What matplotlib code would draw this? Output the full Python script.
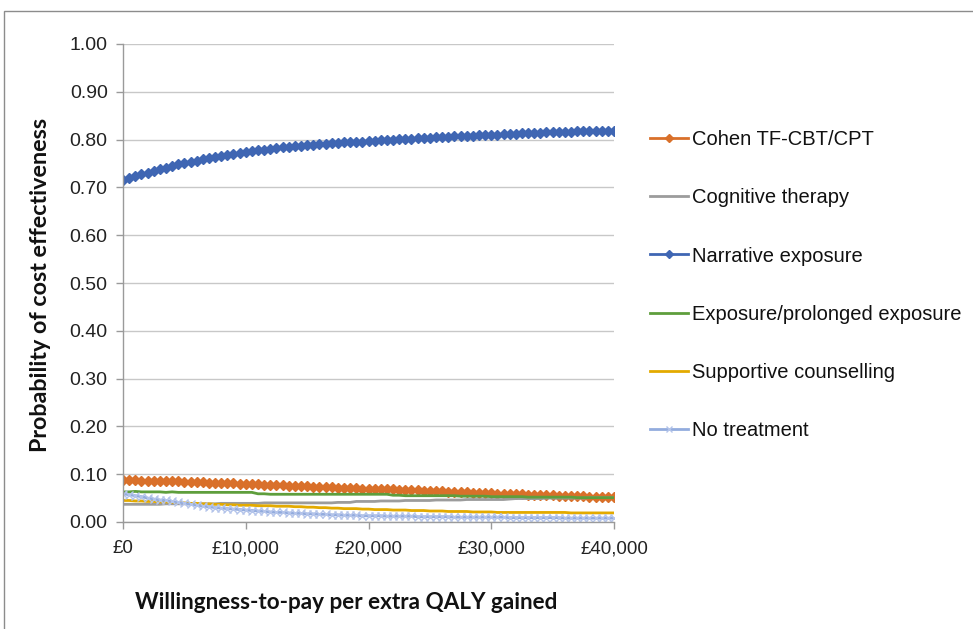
import matplotlib.pyplot as plt
from matplotlib.patches import Rectangle
from matplotlib.ticker import FuncFormatter

# willingness-to-pay thresholds (GBP per QALY)
wtp = list(range(0, 40001, 500))

cohen = [.087, .087, .087, .086, .086, .086, .086, .085, .085,
         .085, .084, .084, .083, .083, .082, .082, .082, .081, .081, .080, .080,
         .079, .079, .078, .078, .077, .077, .076, .076, .075, .075,
         .074, .074, .073, .073, .072, .072, .071, .071, .070, .070,
         .069, .069, .068, .068, .067, .067, .066, .066, .065, .065,
         .064, .064, .063, .063, .062, .062, .061, .061, .060, .060,
         .059, .059, .058, .058, .058, .057, .057, .056, .056, .056,
         .055, .055, .054, .054, .054, .053, .053, .052, .052, .052]

cognitive = [.037, .037, .037, .037, .037, .037, .037, .038, .038, .038, .038, .038,
             .038, .038, .038, .038, .039, .039, .039, .039, .039, .039, .039,
             .040, .040, .040, .040, .040, .040, .040, .040, .040, .040, .040, .040,
             .041, .041, .041,
             .043, .043, .043, .043, .044, .044, .044, .044, .045, .045, .045, .045, .045,
             .046, .046, .046, .046, .046, .047, .047, .047, .047, .047, .047, .047, .048,
             .049, .049, .049, .049, .049, .050, .050, .050, .050, .050, .050, .050, .051,
             .051, .051, .051, .051]

narrative = [.715, .719, .723, .727, .731, .734, .738, .741, .745, .748,
             .751, .754, .756, .759, .761, .764, .766, .768, .770, .772,
             .774, .776, .778, .779, .781, .782, .784, .785, .786, .787,
             .788, .789, .790, .791, .792, .793, .794, .795, .796, .796,
             .797, .798, .799, .799, .800, .801, .802, .802, .803, .804,
             .804, .805, .806, .806, .807, .807, .808, .808, .809, .809,
             .810, .810, .811, .811, .812, .813, .813, .814, .814, .815,
             .815, .815, .816, .816, .817, .817, .818, .818, .818, .819,
             .819]

exposure = [.063, .063, .064, .063, .063, .063, .063, .062, .063, .062, .062,
            .062, .062, .062, .062, .062, .062, .062, .062, .062, .062, .062,
            .059, .059, .058, .058, .058, .058, .058, .058, .058, .058, .058,
            .058, .058, .058, .058, .058, .058, .058, .058, .058, .058, .058,
            .056, .056, .055, .055, .055, .055, .055, .055, .055, .055, .055,
            .054, .054, .054, .054, .054, .053, .053, .053, .053, .053, .053,
            .052, .052, .052, .052, .052, .052, .052, .052, .051, .051, .051,
            .051, .051, .051, .051]

supportive = [.045, .045, .044, .044, .043, .043, .042, .042, .041, .041, .040,
              .039, .039, .038, .038, .037, .037, .036, .036, .035, .035, .035,
              .034, .034, .034, .033, .033, .033,
              .032, .032, .031, .031, .030, .030, .029, .029, .028, .028, .028,
              .027, .027,
              .026, .026, .026, .025, .025, .025, .024, .024, .024, .023,
              .023, .023, .022, .022, .022, .022, .021, .021, .021, .021,
              .020, .020, .020, .020, .020, .020, .020, .020, .020, .020,
              .020, .020, .019, .019, .019, .019, .019, .019, .019, .019]

no_treatment = [.059, .057, .055, .053, .050, .048, .046, .045, .043, .041, .039,
                .037, .035, .033, .032, .030, .029, .028, .027, .026, .025,
                .024, .023, .022, .021, .020, .020, .019, .018, .018, .017,
                .017, .016, .016, .015, .015, .014, .014, .014, .013, .013,
                .013, .013, .012, .012, .012, .012, .012, .011, .011, .011,
                .011, .011, .011, .010, .010, .010, .010, .010, .010, .010,
                .010, .010, .009, .009, .009, .009, .009, .009, .009, .009,
                .009, .008, .008, .008, .008, .008, .008, .008, .008, .008]

fig = plt.figure(figsize=(9.73, 6.29), dpi=100)
ax = fig.add_axes([123 / 973, 1 - 522 / 629, 491 / 973, 478 / 629])

lw = 2.0
ax.plot(wtp, cohen, color='#D9702A', lw=lw, marker='D', ms=5.5, label='Cohen TF-CBT/CPT')
ax.plot(wtp, cognitive, color='#9C9C9C', lw=lw, label='Cognitive therapy')
ax.plot(wtp, narrative, color='#3F66B3', lw=lw, marker='D', ms=5.5, label='Narrative exposure')
ax.plot(wtp, exposure, color='#5E9E3C', lw=lw, label='Exposure/prolonged exposure')
ax.plot(wtp, supportive, color='#E3AA00', lw=lw, label='Supportive counselling')
ax.plot(wtp, no_treatment, color='#93ACDE', lw=lw, marker='x', ms=5.5, mew=1.0,
        mec='#B4C4EA', label='No treatment')

ax.set_xlim(0, 40000)
ax.set_ylim(0, 1.0)
ax.set_yticks([i / 10 for i in range(11)])
ax.set_xticks([0, 10000, 20000, 30000, 40000])
ax.yaxis.set_major_formatter(FuncFormatter(lambda v, p: f'{v:.2f}'))
ax.xaxis.set_major_formatter(FuncFormatter(lambda v, p: f'£{v:,.0f}'))

ax.grid(axis='y', color='#C8C8C8', lw=1.0)
ax.set_axisbelow(True)
for s in ['top', 'right']:
    ax.spines[s].set_visible(False)
for s in ['left', 'bottom']:
    ax.spines[s].set_color('#9A9A9A')
    ax.spines[s].set_linewidth(1.0)
ax.tick_params(axis='both', colors='#9A9A9A', length=5, width=1.0,
               labelcolor='#222222', labelsize=13.5)
ax.tick_params(axis='y', labelsize=14, pad=6)
ax.tick_params(axis='x', pad=8)
for lbl in ax.get_xticklabels() + ax.get_yticklabels():
    lbl.set_fontfamily('Liberation Sans')

ax.set_xlabel('Willingness-to-pay per extra QALY gained', fontfamily='Lato',
              fontweight='bold', fontsize=16.2, color='#111111')
ax.xaxis.set_label_coords((346 - 123) / 491, -70 / 478)
ax.set_ylabel('Probability of cost effectiveness', fontfamily='Lato',
              fontweight='bold', fontsize=16.8, color='#111111')
ax.yaxis.set_label_coords(-(123 - 51) / 491, (522 - 285) / 478)

leg = fig.legend(loc='upper left', bbox_to_anchor=(650 / 973, 1 - 130 / 629),
                 frameon=False, prop={'family': 'Liberation Sans', 'size': 14.5},
                 labelspacing=1.95, handlelength=1.9, handletextpad=0.2,
                 borderaxespad=0, borderpad=0, markerscale=0.8)
for t in leg.get_texts():
    t.set_color('#111111')

# outer chart frame
fig.add_artist(Rectangle((4 / 973, -0.1), 1.2, 1 - 11 / 629 + 0.1,
                         transform=fig.transFigure, fill=False,
                         edgecolor='#8C8C8C', lw=1.0))

fig.savefig('out.png', dpi=100)
